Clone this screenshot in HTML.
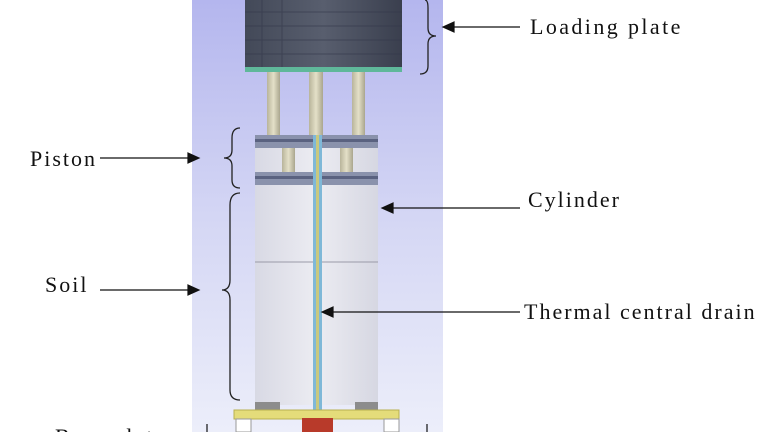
<!DOCTYPE html>
<html><head><style>
body{margin:0;width:768px;height:432px;overflow:hidden;background:#fff;font-family:"Liberation Serif",serif;}
</style></head><body>
<svg width="768" height="432" viewBox="0 0 768 432" xmlns="http://www.w3.org/2000/svg">
<defs>
<linearGradient id="bg" x1="0" y1="0" x2="0" y2="1">
<stop offset="0" stop-color="#b4b6ee"/><stop offset="0.5" stop-color="#d4d6f4"/><stop offset="1" stop-color="#eceefa"/></linearGradient>
<linearGradient id="dark" x1="0" y1="0" x2="1" y2="0">
<stop offset="0" stop-color="#434958"/><stop offset="0.5" stop-color="#585e6e"/><stop offset="1" stop-color="#3a3f4e"/></linearGradient>
<linearGradient id="cyl" x1="0" y1="0" x2="1" y2="0">
<stop offset="0" stop-color="#d8d9e4"/><stop offset="0.5" stop-color="#ececf2"/><stop offset="1" stop-color="#d6d7e2"/></linearGradient>
<linearGradient id="rod" x1="0" y1="0" x2="1" y2="0">
<stop offset="0" stop-color="#b8b49a"/><stop offset="0.5" stop-color="#e4e0c8"/><stop offset="1" stop-color="#aaa68e"/></linearGradient>
</defs>
<rect x="192" y="0" width="251" height="432" fill="url(#bg)"/>
<rect x="245" y="0" width="157" height="68" fill="url(#dark)"/>
<g stroke="#33374a" stroke-width="1" opacity="0.6">
<line x1="245" y1="12" x2="402" y2="12"/><line x1="245" y1="26" x2="402" y2="26"/><line x1="245" y1="40" x2="402" y2="40"/><line x1="245" y1="54" x2="402" y2="54"/>
<line x1="262" y1="0" x2="262" y2="68"/><line x1="282" y1="0" x2="282" y2="68"/></g>
<rect x="245" y="67" width="157" height="5" fill="#5fb89a"/>
<rect x="267" y="72" width="13" height="64" fill="url(#rod)"/>
<rect x="309" y="72" width="14" height="64" fill="url(#rod)"/>
<rect x="352" y="72" width="13" height="64" fill="url(#rod)"/>
<rect x="255" y="148" width="123" height="257" fill="url(#cyl)"/>
<line x1="255" y1="262" x2="378" y2="262" stroke="#9a9aa8" stroke-width="1"/>
<rect x="255" y="135" width="123" height="13" fill="#8a92ac"/>
<rect x="255" y="139" width="123" height="3" fill="#5a6280"/>
<rect x="255" y="172" width="123" height="13" fill="#8a92ac"/>
<rect x="255" y="176" width="123" height="3" fill="#5a6280"/>
<rect x="282" y="148" width="13" height="24" fill="url(#rod)"/>
<rect x="340" y="148" width="13" height="24" fill="url(#rod)"/>
<rect x="313" y="135" width="9" height="275" fill="#7fb8d8"/>
<rect x="316" y="135" width="3" height="275" fill="#c8c880"/>
<rect x="255" y="402" width="25" height="8" fill="#8c8c8c"/>
<rect x="355" y="402" width="23" height="8" fill="#8c8c8c"/>
<rect x="234" y="410" width="165" height="9" fill="#e4dc7a" stroke="#b8b050"/>
<rect x="302" y="418" width="31" height="14" fill="#b83a2a"/>
<rect x="236" y="419" width="15" height="13" fill="#fff" stroke="#999"/>
<rect x="384" y="419" width="15" height="13" fill="#fff" stroke="#999"/>
<g fill="none" stroke="#222" stroke-width="1.3">
<path d="M425 0 Q428 0 428 8 L428 28 Q428 36 436 36 Q428 36 428 44 L428 66 Q428 74 420 74"/>
<path d="M240 128 Q232 128 232 138 L232 150 Q232 158 224 158 Q232 158 232 166 L232 180 Q232 188 240 188"/>
<path d="M240 193 Q230 193 230 205 L230 280 Q230 290 222 290 Q230 290 230 300 L230 390 Q230 400 240 400"/>
</g>
<g stroke="#111" stroke-width="1.2" fill="#111">
<line x1="452" y1="27" x2="520" y2="27"/><polygon points="443,27 454,22 454,32"/>
<line x1="100" y1="158" x2="190" y2="158"/><polygon points="199,158 188,153 188,163"/>
<line x1="392" y1="208" x2="520" y2="208"/><polygon points="382,208 393,203 393,213"/>
<line x1="100" y1="290" x2="190" y2="290"/><polygon points="199,290 188,285 188,295"/>
<line x1="332" y1="312" x2="520" y2="312"/><polygon points="322,312 333,307 333,317"/>
<line x1="207" y1="424" x2="207" y2="432"/><line x1="427" y1="424" x2="427" y2="432"/>
</g>
<g font-family="Liberation Serif, serif" font-size="22" fill="#111" letter-spacing="2">
<text x="530" y="34" letter-spacing="2.4">Loading plate</text>
<text x="30" y="166">Piston</text>
<text x="528" y="207">Cylinder</text>
<text x="45" y="292">Soil</text>
<text x="524" y="319">Thermal central drain</text>
<text x="55" y="444">Base plate</text>
</g>
</svg>
</body></html>
